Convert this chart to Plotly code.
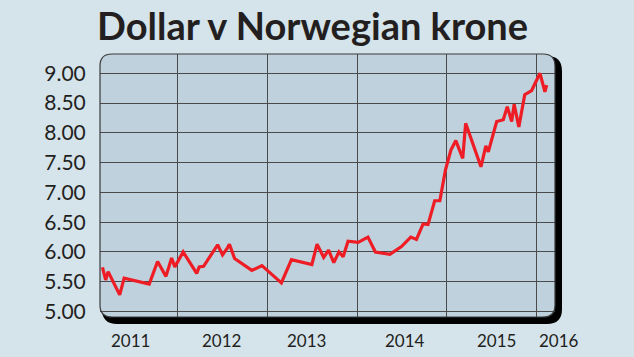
import plotly.graph_objects as go

# ---- data ----
dates = [
    "2011-03-03", "2011-03-16", "2011-03-26", "2011-05-12", "2011-05-30",
    "2011-09-09", "2011-10-13", "2011-11-16", "2011-12-09", "2011-12-22",
    "2012-01-25", "2012-03-20", "2012-03-30", "2012-04-17", "2012-06-13",
    "2012-07-03", "2012-07-23", "2012-07-31", "2012-08-21", "2012-10-30",
    "2012-12-10", "2013-02-27", "2013-04-09", "2013-07-01", "2013-07-22",
    "2013-08-18", "2013-09-07", "2013-09-28", "2013-10-19", "2013-11-05",
    "2013-11-25", "2014-01-05", "2014-02-14", "2014-03-16", "2014-05-14",
    "2014-06-30", "2014-08-07", "2014-08-30", "2014-09-26", "2014-10-16",
    "2014-11-12", "2014-12-03", "2014-12-26", "2015-01-17", "2015-02-06",
    "2015-03-06", "2015-03-18", "2015-05-19", "2015-06-08", "2015-06-18",
    "2015-07-22", "2015-08-18", "2015-09-03", "2015-09-21", "2015-10-01",
    "2015-10-20", "2015-11-13", "2015-12-11", "2016-01-14", "2016-02-03",
    "2016-02-10",
]
nok_per_usd = [
    5.74, 5.53, 5.67, 5.28, 5.56,
    5.46, 5.84, 5.59, 5.90, 5.75,
    6.00, 5.64, 5.75, 5.76, 6.12,
    5.95, 6.07, 6.13, 5.89, 5.69,
    5.77, 5.48, 5.87, 5.79, 6.13,
    5.91, 6.03, 5.82, 6.00, 5.92,
    6.18, 6.16, 6.25, 6.00, 5.96,
    6.09, 6.25, 6.21, 6.47, 6.46,
    6.86, 6.86, 7.38, 7.71, 7.87,
    7.57, 8.16, 7.43, 7.78, 7.68,
    8.19, 8.22, 8.44, 8.19, 8.48,
    8.10, 8.64, 8.71, 9.00, 8.69,
    8.80,
]
y_ticks = [5.0, 5.5, 6.0, 6.5, 7.0, 7.5, 8.0, 8.5, 9.0]
year_gridlines = ["2012-01-01", "2013-01-01", "2014-01-01", "2015-01-01", "2016-01-01"]
year_labels = ["2011", "2012", "2013", "2014", "2015", "2016"]
year_label_dates = ["2011-06-26", "2012-06-27", "2013-06-09", "2014-07-14", "2015-07-23"]

BG = "#d5e3eb"
PANEL = "#bed1dc"
GRID = "#4a4a4a"
INK = "#231f20"
RED = "#ee1c25"

fig = go.Figure()
fig.add_trace(go.Scatter(
    x=dates, y=nok_per_usd, mode="lines",
    line=dict(color=RED, width=3.2), hoverinfo="skip", showlegend=False,
))

# rounded panel with drop shadow (paper coordinates)
W, H = 454.5, 263.0  # plot area size in px


def rounded(x0, y0, x1, y1, r):
    rx, ry = r / W, r / H
    return (f"M {x0+rx},{y1} L {x1-rx},{y1} Q {x1},{y1} {x1},{y1-ry} "
            f"L {x1},{y0+ry} Q {x1},{y0} {x1-rx},{y0} "
            f"L {x0+rx},{y0} Q {x0},{y0} {x0},{y0+ry} "
            f"L {x0},{y1-ry} Q {x0},{y1} {x0+rx},{y1} Z")


shadow = rounded(2 / W, -7 / H, 1 + 7 / W, 1 - 2 / H, 15)
panel = rounded(0, 0, 1, 1, 12)
fig.add_shape(type="path", path=shadow, xref="paper", yref="paper",
              fillcolor="#000000", line=dict(width=0), layer="below")
fig.add_shape(type="path", path=panel, xref="paper", yref="paper",
              fillcolor=PANEL, line=dict(width=0), layer="below")
fig.add_shape(type="path", path=panel, xref="paper", yref="paper",
              fillcolor="rgba(0,0,0,0)", line=dict(color="#3a3a3a", width=1.2),
              layer="above")

# year labels
for lab, d in zip(year_labels[:-1], year_label_dates):
    fig.add_annotation(x=d, xref="x", y=-0.09, yref="paper", text=lab,
                       showarrow=False, xanchor="center", yanchor="middle",
                       font=dict(family="Lato", size=17, color=INK))
fig.add_annotation(x=1 + 4 / W, xref="paper", y=-0.09, yref="paper",
                   text=year_labels[-1], showarrow=False,
                   xanchor="center", yanchor="middle",
                   font=dict(family="Lato", size=17, color=INK))

fig.update_layout(
    width=634, height=357,
    margin=dict(l=100, r=79, t=54, b=40),
    paper_bgcolor=BG, plot_bgcolor="rgba(0,0,0,0)",
    title=dict(text="<b>Dollar v Norwegian krone</b>", x=0.493, xanchor="center",
               y=0.925, yanchor="middle",
               font=dict(family="Lato", size=38, color=INK, weight=900)),
    xaxis=dict(type="date", range=["2011-02-21", "2016-03-15"],
               tickmode="array", tickvals=year_gridlines, showticklabels=False,
               showgrid=True, gridcolor=GRID, gridwidth=1, zeroline=False,
               showline=False, ticks=""),
    yaxis=dict(range=[4.908, 9.324], tickmode="array", tickvals=y_ticks,
               ticktext=[f"{v:.2f}" for v in y_ticks],
               showgrid=True, gridcolor=GRID, gridwidth=1.2, zeroline=False,
               showline=False, ticks="outside", ticklen=9,
               tickcolor="rgba(0,0,0,0)",
               tickfont=dict(family="Lato", size=21, color=INK)),
)

fig.write_html(
    "out.html",
    config={"displayModeBar": False},
    post_script="document.body.style.margin='0';"
                "document.body.style.background='" + BG + "';",
)
